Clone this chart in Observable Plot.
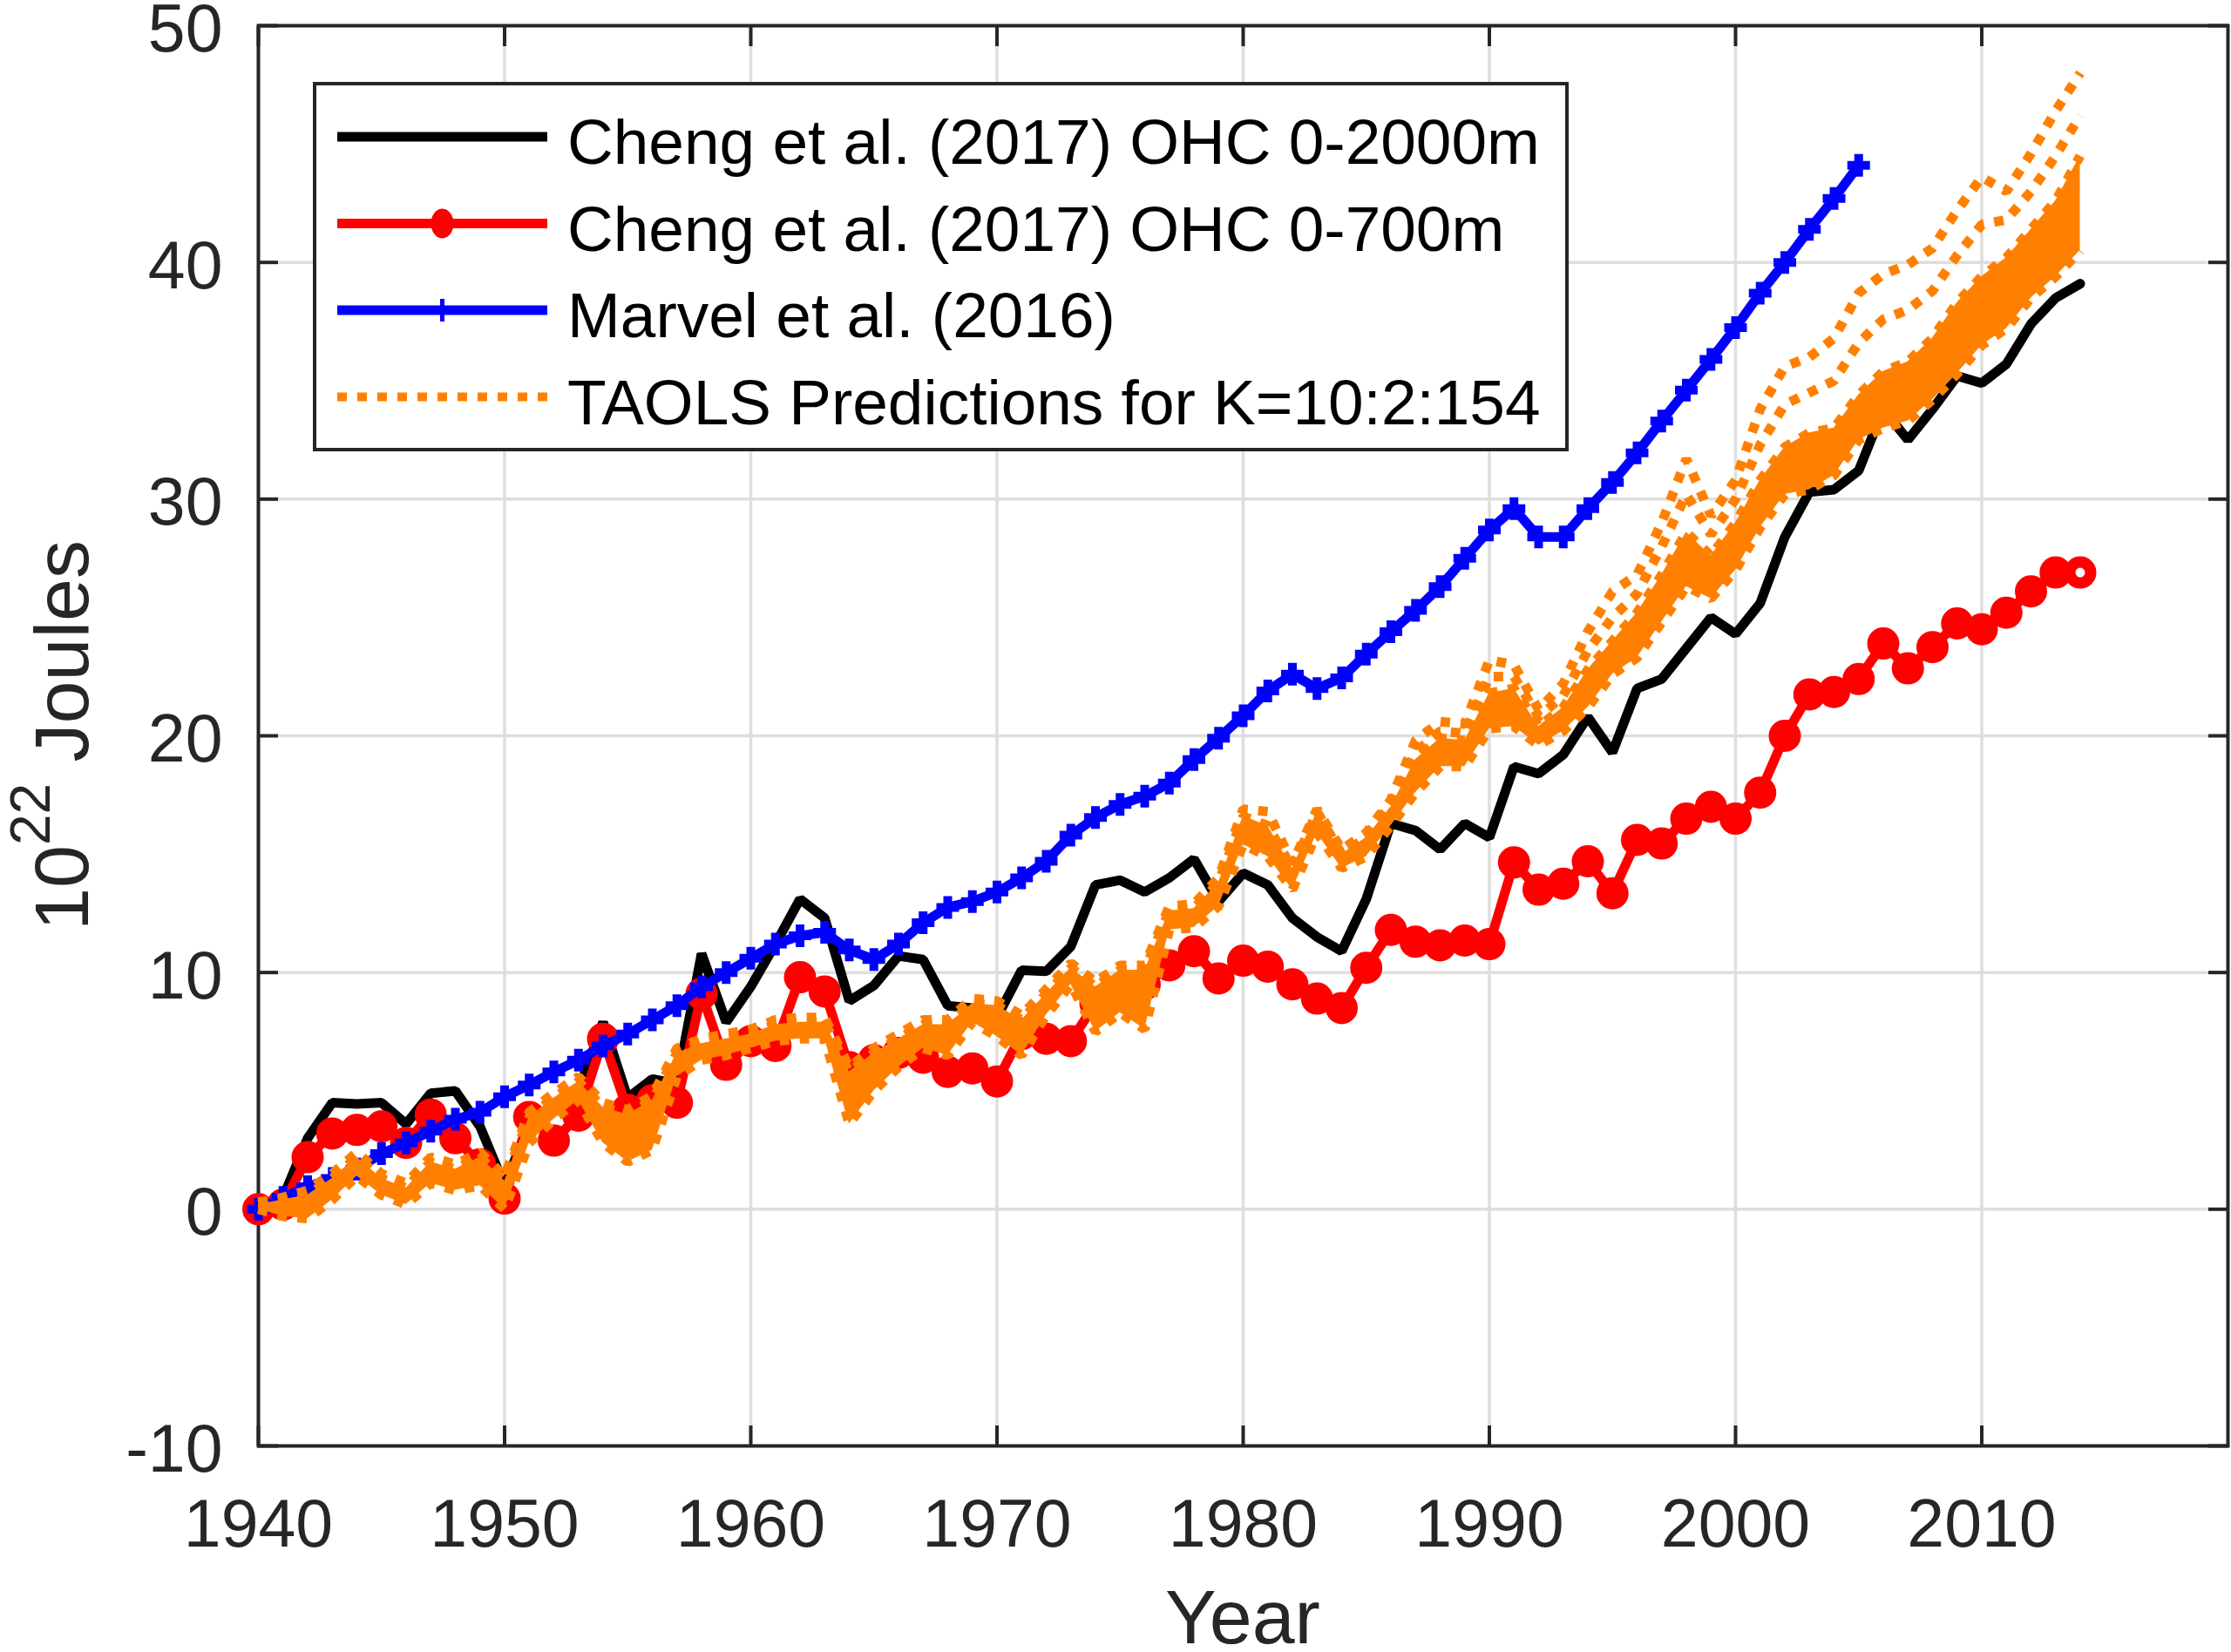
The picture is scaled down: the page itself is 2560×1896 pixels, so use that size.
<!DOCTYPE html>
<html>
<head>
<meta charset="utf-8">
<script src="https://cdn.jsdelivr.net/npm/d3@7"></script>
<script src="https://cdn.jsdelivr.net/npm/@observablehq/plot@0.6"></script>
<style>
html, body { margin: 0; padding: 0; background: #ffffff; }
#chart svg { display: block; }
</style>
</head>
<body>
<div id="chart"></div>
<script>
// ---------------- DATA ----------------
const years = d3.range(1940, 2015); // 1940..2014

// Cheng et al. (2017) OHC 0-2000m
const ohc2000 = [
  0.0, 0.5, 3.0, 4.5, 4.45, 4.5, 3.6, 4.9, 5.0, 3.5,
  1.0, 3.6, 4.3, 5.0, 7.9, 4.7, 5.5, 5.3, 10.8, 7.9,
  9.4, 11.2, 13.1, 12.3, 8.8, 9.45, 10.7, 10.55, 8.6, 8.5,
  8.1, 10.1, 10.05, 11.1, 13.7, 13.9, 13.4, 14.0, 14.8, 13.0,
  14.2, 13.7, 12.3, 11.5, 10.9, 13.1, 16.3, 16.0, 15.2, 16.3,
  15.7, 18.7, 18.4, 19.2, 20.8, 19.3, 22.0, 22.4, 23.7, 25.0,
  24.3, 25.6, 28.4, 30.3, 30.4, 31.2, 33.8, 32.5, 33.8, 35.2,
  34.9, 35.7, 37.4, 38.5, 39.1
];

// Cheng et al. (2017) OHC 0-700m
const ohc700 = [
  0.0, 0.2, 2.2, 3.2, 3.35, 3.5, 2.8, 4.0, 3.0, 1.9,
  0.45, 3.9, 2.9, 3.95, 7.2, 4.2, 4.6, 4.5, 9.1, 6.1,
  7.1, 6.9, 9.8, 9.2, 6.0, 6.3, 6.6, 6.4, 5.8, 5.95,
  5.4, 7.4, 7.2, 7.1, 8.7, 9.1, 9.5, 10.3, 10.9, 9.75,
  10.5, 10.25, 9.5, 8.9, 8.5, 10.2, 11.8, 11.3, 11.15, 11.35,
  11.2, 14.65, 13.5, 13.75, 14.7, 13.35, 15.6, 15.45, 16.5, 17.0,
  16.5, 17.6, 20.0, 21.75, 21.85, 22.4, 23.9, 22.85, 23.75, 24.75,
  24.5, 25.2, 26.1, 26.9, 26.9
];

// Marvel et al. (2016), 1940..2005
const marvelYears = d3.range(1940, 2006);
const marvel = [
  0.0, 0.5, 0.95, 1.3, 1.7, 2.35, 2.8, 3.3, 3.8, 4.1,
  4.75, 5.25, 5.8, 6.3, 6.9, 7.4, 8.0, 8.6, 9.4, 10.0,
  10.6, 11.2, 11.55, 11.7, 10.95, 10.55, 11.2, 12.1, 12.75, 13.0,
  13.4, 14.0, 14.7, 15.8, 16.55, 17.1, 17.45, 18.0, 19.0, 19.9,
  20.85, 21.9, 22.6, 22.0, 22.45, 23.45, 24.4, 25.3, 26.3, 27.5,
  28.7, 29.6, 28.4, 28.4, 29.6, 30.7, 31.95, 33.3, 34.6, 35.9,
  37.25, 38.7, 40.0, 41.4, 42.7, 44.1
];

// TAOLS predictions (K = 10:2:154): lower edge, top of dense core, upper edge
const taolsLow = [
  0.0, -0.3, -0.4, 0.4, 1.4, 0.6, 0.2, 1.1, 0.8, 1.0,
  0.0, 2.8, 3.8, 4.6, 2.8, 2.0, 2.5, 5.6, 6.3, 6.5,
  6.8, 7.1, 7.2, 7.2, 3.6, 5.0, 6.0, 6.8, 6.5, 7.9,
  7.3, 6.5, 8.2, 9.5, 7.5, 8.3, 7.6, 11.8, 11.9, 12.8,
  15.4, 14.9, 13.5, 15.9, 14.4, 14.9, 16.2, 17.6, 18.7, 18.7,
  20.3, 20.4, 19.6, 20.2, 21.2, 22.6, 23.3, 24.8, 26.3, 25.8,
  27.0, 28.8, 30.2, 30.4, 31.0, 32.5, 33.0, 33.3, 34.2, 35.3,
  36.5, 37.2, 38.5, 39.4, 40.5
];
const taolsCore = [
  0.2, 0.4, 0.6, 1.3, 2.2, 1.3, 0.9, 2.0, 1.7, 2.2,
  1.2, 3.9, 4.7, 5.4, 4.3, 4.0, 4.6, 6.6, 7.0, 7.2,
  7.4, 7.8, 7.9, 7.9, 5.8, 6.6, 7.2, 7.8, 7.8, 8.7,
  8.6, 8.0, 9.1, 10.2, 9.4, 10.1, 10.1, 12.6, 12.7, 13.8,
  16.6, 16.2, 14.4, 16.8, 15.0, 15.7, 17.0, 19.0, 19.9, 19.8,
  21.8, 22.0, 20.4, 21.2, 22.8, 24.0, 25.2, 26.8, 28.6, 27.6,
  29.0, 30.8, 32.2, 32.8, 33.0, 34.4, 35.4, 35.8, 36.8, 38.3,
  39.4, 40.2, 41.4, 42.6, 44.5
];
const taolsHigh = [
  0.3, 0.5, 0.8, 1.5, 2.4, 1.5, 1.1, 2.2, 1.9, 2.4,
  1.4, 4.1, 4.9, 5.6, 4.5, 4.2, 4.8, 6.8, 7.2, 7.4,
  7.6, 8.0, 8.1, 8.1, 6.0, 6.8, 7.4, 8.0, 8.0, 8.9,
  8.8, 8.2, 9.3, 10.4, 9.6, 10.3, 10.3, 12.8, 12.9, 14.0,
  16.9, 16.8, 14.6, 16.9, 15.2, 15.9, 17.3, 19.8, 20.6, 20.5,
  23.2, 23.0, 21.1, 22.2, 24.4, 26.1, 26.8, 29.0, 31.7, 29.3,
  30.8, 33.8, 35.6, 36.0, 36.8, 38.7, 39.5, 39.9, 40.6, 42.2,
  43.6, 43.0, 44.6, 46.4, 48.0
];
const taolsUpperYears = d3.range(1985, 2015);
const taolsUpper = [
  15.8, 17.1, 19.3, 20.2, 20.1, 22.5, 22.5, 20.8, 21.7, 23.6,
  25.0, 26.0, 28.0, 30.2, 28.5, 30.0, 32.3, 34.0, 34.5, 35.0,
  36.6, 37.6, 38.0, 38.8, 40.3, 41.6, 41.8, 43.0, 44.5, 46.2
];

const xTicks = [1940, 1950, 1960, 1970, 1980, 1990, 2000, 2010];
const yTicks = [-10, 0, 10, 20, 30, 40, 50];
const xDomain = [1940, 2020];
const yDomain = [-10, 50];

const seriesNames = [
  "Cheng et al. (2017) OHC 0-2000m",
  "Cheng et al. (2017) OHC 0-700m",
  "Marvel et al. (2016)",
  "TAOLS Predictions for K=10:2:154"
];
const xLabel = "Year";
const yLabelBase = "10";
const yLabelExp = "22";
const yLabelUnit = " Joules";

// ---------------- STYLE ----------------
const FONT = "'Liberation Sans', Arial, Helvetica, sans-serif";
const C_BLACK = "#000000", C_RED = "#FF0000", C_BLUE = "#0000FF", C_ORANGE = "#FF8000";
const AX = "#262626";
const W = 2560, H = 1896;
const mL = 296, mR = 4, mT = 29, mB = 237;

// ---------------- TABLES ----------------
const rows2000 = years.map((year, i) => ({year, value: ohc2000[i]}));
const rows700 = years.map((year, i) => ({year, value: ohc700[i]}));
const rowsMarvel = marvelYears.map((year, i) => ({year, value: marvel[i]}));
const rowsTaols = years.map((year, i) => ({year, low: taolsLow[i], core: taolsCore[i], high: taolsHigh[i]}));
const rowsTaolsUpper = taolsUpperYears.map((year, i) => ({year, value: taolsUpper[i]}));
const lastYear = years[years.length - 1];

const plusSymbol = {
  draw(ctx) {
    const a = 13;
    ctx.moveTo(-a, 0); ctx.lineTo(a, 0);
    ctx.moveTo(0, -a); ctx.lineTo(0, a);
  }
};

const dotted = {stroke: C_ORANGE, strokeWidth: 11, strokeDasharray: "11,12", strokeLinecap: "butt", strokeLinejoin: "miter"};

const chart = Plot.plot({
  width: W,
  height: H,
  marginLeft: mL,
  marginRight: mR,
  marginTop: mT,
  marginBottom: mB,
  style: {fontFamily: FONT, background: "#ffffff", color: AX},
  x: {domain: xDomain, label: null},
  y: {domain: yDomain, label: null},
  marks: [
    Plot.gridX(xTicks, {stroke: "#dedede", strokeOpacity: 1, strokeWidth: 3.5}),
    Plot.gridY(yTicks, {stroke: "#dedede", strokeOpacity: 1, strokeWidth: 3.5}),
    Plot.frame({stroke: AX, strokeWidth: 4}),
    Plot.axisX(xTicks, {tickSize: 0, tickPadding: 61, fontSize: 77, tickFormat: d => String(d), label: null}),
    Plot.axisX(xTicks, {tickSize: -23, strokeWidth: 4, stroke: AX, tickFormat: () => "", label: null}),
    Plot.axisX(xTicks, {anchor: "top", tickSize: -23, strokeWidth: 4, stroke: AX, tickFormat: () => "", label: null}),
    Plot.axisY(yTicks, {tickSize: 0, tickPadding: 41, dy: 5, fontSize: 77, tickFormat: d => String(d), label: null}),
    Plot.axisY(yTicks, {tickSize: -23, strokeWidth: 4, stroke: AX, tickFormat: () => "", label: null}),
    Plot.axisY(yTicks, {anchor: "right", tickSize: -23, strokeWidth: 4, stroke: AX, tickFormat: () => "", label: null}),

    // Cheng 0-2000m
    Plot.lineY(rows2000, {x: "year", y: "value", stroke: C_BLACK, strokeWidth: 11, strokeLinejoin: "miter"}),
    // Cheng 0-700m
    Plot.lineY(rows700, {x: "year", y: "value", stroke: C_RED, strokeWidth: 11, strokeLinejoin: "miter"}),
    Plot.dot(rows700.filter(d => d.year === lastYear), {x: "year", y: "value", r: 12, fill: "#ffffff", stroke: C_RED, strokeWidth: 13}),
    Plot.dot(rows700.filter(d => d.year !== lastYear), {x: "year", y: "value", r: 12, fill: C_RED, stroke: C_RED, strokeWidth: 13}),
    // Marvel
    Plot.lineY(rowsMarvel, {x: "year", y: "value", stroke: C_BLUE, strokeWidth: 11, strokeLinejoin: "miter"}),
    Plot.dot(rowsMarvel, {x: "year", y: "value", symbol: plusSymbol, r: 10, fill: "none", stroke: C_BLUE, strokeWidth: 10, strokeLinecap: "butt"}),
    // TAOLS band
    Plot.areaY(rowsTaols, {x: "year", y1: "low", y2: "core", fill: C_ORANGE, fillOpacity: 1}),
    Plot.lineY(rowsTaols, {x: "year", y: "low", ...dotted}),
    Plot.lineY(rowsTaols, {x: "year", y: "core", ...dotted}),
    Plot.lineY(rowsTaols, {x: "year", y: "high", ...dotted}),
    Plot.lineY(rowsTaolsUpper, {x: "year", y: "value", ...dotted})
  ]
});

document.getElementById("chart").appendChild(chart);

// ---------------- LABELS & LEGEND ----------------
const svg = d3.select(chart);

// x label
svg.append("text")
  .attr("x", mL + (W - mL - mR) / 2)
  .attr("y", 1886)
  .attr("text-anchor", "middle")
  .attr("font-family", FONT)
  .attr("font-size", 88)
  .attr("fill", AX)
  .text(xLabel);

// y label with superscript
const yl = svg.append("text")
  .attr("transform", "translate(101," + (mT + (H - mT - mB) * 0.5) + ") rotate(-90)")
  .attr("text-anchor", "middle")
  .attr("font-family", FONT)
  .attr("font-size", 88)
  .attr("fill", AX);
yl.append("tspan").text(yLabelBase);
yl.append("tspan").attr("font-size", 64).attr("dy", -44).text(yLabelExp);
yl.append("tspan").attr("dy", 44).text(yLabelUnit);

// legend
const lg = svg.append("g")
  .attr("font-family", FONT)
  .attr("font-size", 73)
  .attr("text-anchor", "start");
lg.append("rect")
  .attr("x", 361).attr("y", 96).attr("width", 1437).attr("height", 420)
  .attr("fill", "#ffffff").attr("stroke", AX).attr("stroke-width", 4);
const legendColors = [C_BLACK, C_RED, C_BLUE, C_ORANGE];
seriesNames.forEach((name, i) => {
  const cy = 157 + i * 99.5;
  const x0 = 387, x1 = 628, xm = (x0 + x1) / 2;
  const ln = lg.append("line")
    .attr("x1", x0).attr("x2", x1).attr("y1", cy).attr("y2", cy)
    .attr("stroke", legendColors[i]).attr("stroke-width", i === 3 ? 10 : 11);
  if (i === 3) ln.attr("stroke-dasharray", "11,12");
  if (i === 1) {
    lg.append("ellipse").attr("cx", xm).attr("cy", cy).attr("rx", 13).attr("ry", 17).attr("fill", C_RED);
  }
  if (i === 2) {
    lg.append("line").attr("x1", xm).attr("x2", xm).attr("y1", cy - 13).attr("y2", cy + 13)
      .attr("stroke", C_BLUE).attr("stroke-width", 5);
  }
  lg.append("text")
    .attr("x", 651).attr("y", cy + 31)
    .attr("text-anchor", "start")
    .attr("fill", "#000000")
    .text(name);
});
</script>
</body>
</html>
